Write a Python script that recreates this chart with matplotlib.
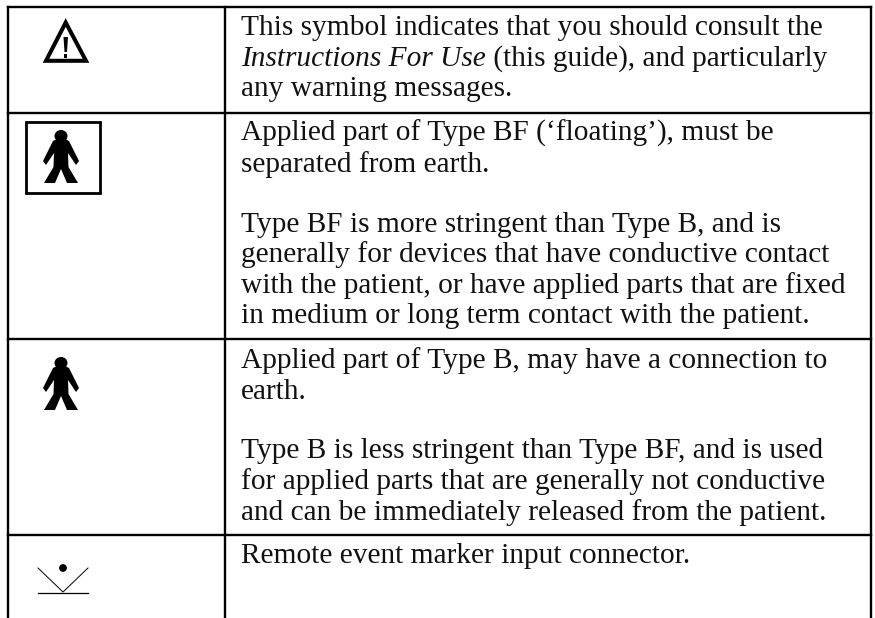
# Symbol table page from the instructions for use

import matplotlib
matplotlib.use("Agg")
import matplotlib.pyplot as plt
from matplotlib.patches import Polygon, Rectangle, Circle, Ellipse

W, H = 875, 618
FONT = "Liberation Serif"
SIZE = 21.2
LW = 1.7

# table rules, in picture pixels
col_lines = [8, 225, 871]
row_lines = [7, 112.5, 339, 534.5]

# text of each row and the baseline it sits on
text_lines = [
    "This symbol indicates that you should consult the",
    "any warning messages.",
    "Applied part of Type BF (‘floating’), must be",
    "separated from earth.",
    "Type BF is more stringent than Type B, and is",
    "generally for devices that have conductive contact",
    "with the patient, or have applied parts that are fixed",
    "in medium or long term contact with the patient.",
    "Applied part of Type B, may have a connection to",
    "earth.",
    "Type B is less stringent than Type BF, and is used",
    "for applied parts that are generally not conductive",
    "and can be immediately released from the patient.",
    "Remote event marker input connector.",
]
text_baselines = [35, 96, 141, 172, 232, 262, 293, 323, 368, 399, 458, 489, 520, 563]

# second line of the first row changes style half way
italic_part = "Instructions For Use"
roman_part = " (this guide), and particularly"
mixed_baseline = 66

# walking figure outline, relative to top of head
person_x = [-4, -8, -18, -15, -7, -7.5, -17, -6, 0, 6, 17, 7.5, 7, 15, 18, 8, 4]
person_y = [9, 11, 31, 35, 23, 37, 53, 53, 39, 53, 53, 37, 23, 35, 31, 11, 9]


def draw_person(ax, cx, top):
    ax.add_patch(Ellipse((cx, top + 6), 13, 12, color="black", lw=0))
    pts = [(cx + x, top + y) for x, y in zip(person_x, person_y)]
    ax.add_patch(Polygon(pts, closed=True, color="black", lw=0))


def draw_warning(ax):
    ax.add_patch(Polygon([(65.7, 22.5), (46, 60.8), (86, 60.8)], closed=True,
                         facecolor="white", edgecolor="black", lw=2.9, joinstyle="miter"))
    ax.add_patch(Polygon([(63.5, 37), (68, 37), (67, 52), (64.5, 52)], closed=True,
                         color="black", lw=0))
    ax.add_patch(Rectangle((64.3, 53.5), 3, 4, color="black", lw=0))


def draw_marker(ax):
    ax.add_patch(Circle((63, 568), 3.9, color="black", lw=0))
    ax.plot([38, 63, 88], [568, 592, 568], color="black", lw=0.7)
    ax.plot([38, 88], [593, 593], color="black", lw=0.9)


def main():
    fig = plt.figure(figsize=(W / 100, H / 100), dpi=100)
    ax = fig.add_axes([0, 0, 1, 1])
    ax.set_xlim(0, W)
    ax.set_ylim(H, 0)
    ax.axis("off")

    # table grid, open at the bottom
    for x in col_lines:
        ax.plot([x, x], [row_lines[0], H], color="black", lw=LW, solid_capstyle="projecting")
    for y in row_lines:
        ax.plot([col_lines[0], col_lines[-1]], [y, y], color="black", lw=LW, solid_capstyle="projecting")

    for line, y in zip(text_lines, text_baselines):
        ax.text(241, y, line, family=FONT, fontsize=SIZE, va="baseline", ha="left", color="#111111")

    t = ax.text(241, mixed_baseline, italic_part, family=FONT, style="italic", fontsize=SIZE,
                va="baseline", ha="left", color="#111111")
    fig.canvas.draw()
    end = ax.transData.inverted().transform(t.get_window_extent().get_points())[1][0]
    ax.text(end, mixed_baseline, roman_part, family=FONT, fontsize=SIZE, va="baseline", ha="left",
            color="#111111")

    # symbols in the left column
    draw_warning(ax)
    ax.add_patch(Rectangle((26, 122), 74, 71, fill=False, edgecolor="black", lw=2.0))
    draw_person(ax, 61, 130)
    draw_person(ax, 61, 357)
    draw_marker(ax)

    fig.savefig("out.png", dpi=100)


if __name__ == "__main__":
    main()
